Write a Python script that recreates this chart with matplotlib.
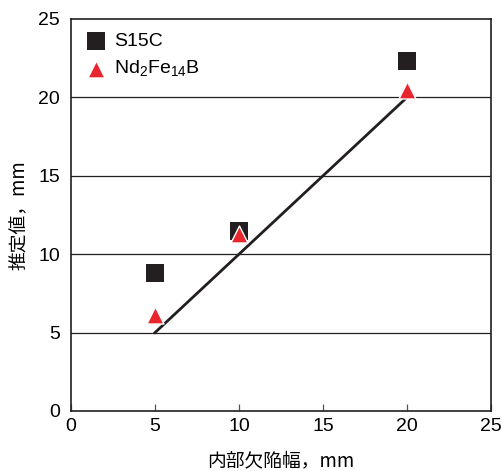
import numpy as np
import matplotlib.pyplot as plt
import matplotlib as mpl

mpl.rcParams["font.family"] = ["Liberation Sans", "Noto Sans CJK JP", "DejaVu Sans"]
mpl.rcParams["axes.unicode_minus"] = False

# ======================
# データ
# ======================
defect_width = [5, 10, 20]
s15c_est = [8.8, 11.5, 22.3]
ndfeb_est = [6.1, 11.3, 20.5]
ideal_x = [5, 20]
ideal_y = [5, 20]

# ======================
# 建図
# ======================
fig = plt.figure(figsize=(5.03, 4.71), dpi=100)
ax = fig.add_axes([0.1412, 0.1274, 0.8349, 0.8323])

# 横グリッド
for yv in [5, 10, 15, 20]:
    ax.axhline(yv, color="#231f20", linewidth=0.9, zorder=1)

ax.plot(ideal_x, ideal_y, color="#231f20", linewidth=2.0, zorder=2)

ax.scatter(defect_width, s15c_est, marker="s", s=150, color="#231f20",
           linewidths=0, zorder=3, label="S15C")
ax.scatter(defect_width, ndfeb_est, marker="^", s=150, color="#e8262d",
           edgecolor="white", linewidths=1.0, zorder=4,
           label=r"Nd$_\mathregular{2}$Fe$_\mathregular{14}$B")

ax.set_xlim(0, 25)
ax.set_ylim(0, 25)
ax.set_xticks([0, 5, 10, 15, 20, 25])
ax.set_yticks([0, 5, 10, 15, 20, 25])

ax.tick_params(axis="x", direction="in", length=5, width=0.9, labelsize=14,
               pad=5, color="#555555")
ax.tick_params(axis="y", length=0, labelsize=14, pad=8)

for sp in ax.spines.values():
    sp.set_color("#231f20")
    sp.set_linewidth(1.2)

ax.set_xlabel("内部欠陥幅，mm", fontsize=13.5, labelpad=11,
              family=["Noto Sans CJK JP", "DejaVu Sans"])
ax.set_ylabel("推定値，mm", fontsize=13.5, labelpad=6,
              family=["Noto Sans CJK JP", "DejaVu Sans"])

ax.legend(loc="upper left", frameon=False, fontsize=14, handletextpad=0.3,
          borderaxespad=0.3, labelspacing=0.45, markerscale=1.0,
          handlelength=1.2)

plt.savefig("out.png", dpi=100)
